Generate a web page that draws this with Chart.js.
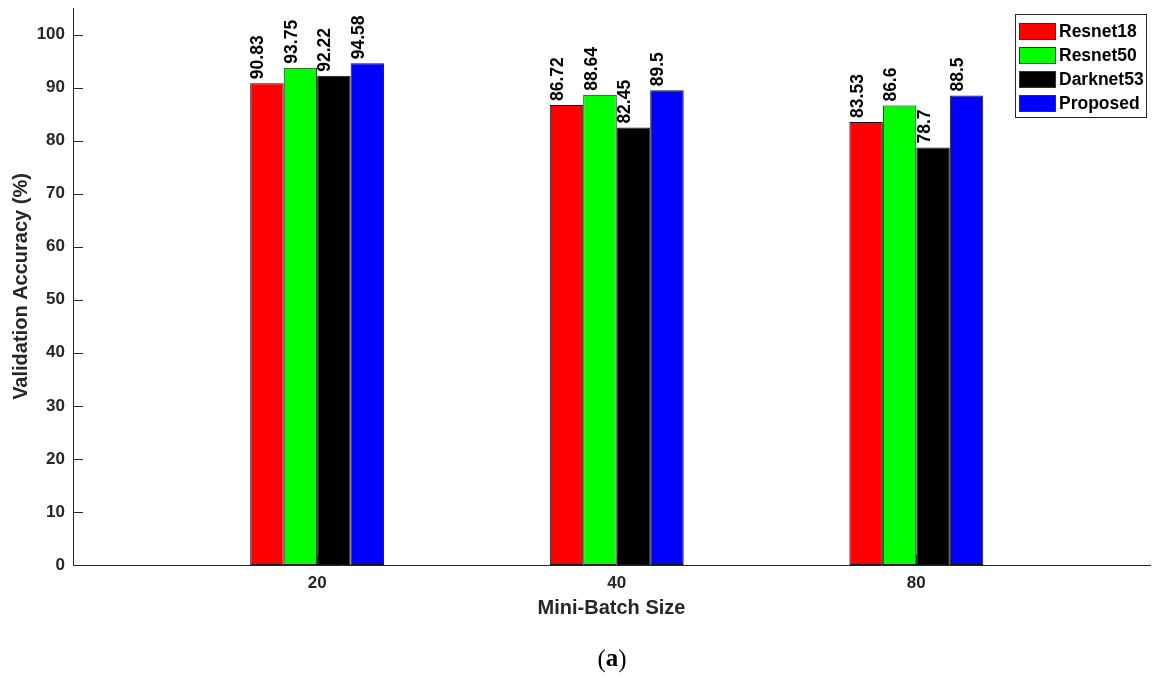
<!DOCTYPE html>
<html>
<head>
<meta charset="utf-8">
<script src="https://cdn.jsdelivr.net/npm/chart.js@4.4.1/dist/chart.umd.min.js"></script>
<style>
  html, body { margin: 0; padding: 0; background: #ffffff; }
  #wrap { width: 1156px; height: 677px; position: relative; }
</style>
</head>
<body>
<div id="wrap"><canvas id="c" width="1156" height="677"></canvas></div>
<script>
// Mini-batch sizes on the x axis
const categories = ['20', '40', '80'];
// Validation accuracy (%) per model, one value per mini-batch size
const resnet18 = [90.83, 86.72, 83.53];
const resnet50 = [93.75, 88.64, 86.6];
const darknet53 = [92.22, 82.45, 78.7];
const proposed = [94.58, 89.5, 88.5];
const seriesNames = ['Resnet18', 'Resnet50', 'Darknet53', 'Proposed'];
const seriesColors = ['#ff0000', '#00ff00', '#000000', '#0000ff'];
const yTicks = [0, 10, 20, 30, 40, 50, 60, 70, 80, 90, 100];

const FONT = "'Liberation Sans', Arial, Helvetica, sans-serif";
const AXIS_COLOR = '#262626';

const seriesValues = [resnet18, resnet50, darknet53, proposed];
const datasets = seriesValues.map((vals, i) => ({
  label: seriesNames[i],
  data: vals.map((v, j) => ({ x: j + 1, y: v })),
  backgroundColor: seriesColors[i],
  borderColor: '#111111',
  borderWidth: 1,
  borderSkipped: false,
  barPercentage: 1.0,
  categoryPercentage: 0.447
}));

// MATLAB-style inward tick marks, drawn on top of the bars
const innerTicks = {
  id: 'innerTicks',
  afterDatasetsDraw(chart) {
    const { ctx, chartArea, scales } = chart;
    ctx.save();
    ctx.strokeStyle = AXIS_COLOR;
    ctx.lineWidth = 1;
    ctx.beginPath();
    scales.y.ticks.forEach(t => {
      const y = Math.round(scales.y.getPixelForValue(t.value)) + 0.5;
      ctx.moveTo(chartArea.left, y);
      ctx.lineTo(chartArea.left + 10, y);
    });
    scales.x.ticks.forEach(t => {
      const x = Math.round(scales.x.getPixelForValue(t.value)) + 0.5;
      ctx.moveTo(x, chartArea.bottom);
      ctx.lineTo(x, chartArea.bottom - 10);
    });
    ctx.stroke();
    ctx.restore();
  }
};

// Vertical value labels above each bar
const barValues = {
  id: 'barValues',
  afterDatasetsDraw(chart) {
    const { ctx } = chart;
    ctx.save();
    ctx.fillStyle = '#000000';
    ctx.font = 'bold 17.5px ' + FONT;
    ctx.textAlign = 'left';
    ctx.textBaseline = 'alphabetic';
    chart.data.datasets.forEach((ds, i) => {
      const meta = chart.getDatasetMeta(i);
      meta.data.forEach((bar, j) => {
        const v = ds.data[j].y;
        ctx.save();
        ctx.translate(bar.x - 3.5, bar.y - 4);
        ctx.rotate(-Math.PI / 2);
        ctx.fillText(String(v), 0, 0);
        ctx.restore();
      });
    });
    ctx.restore();
  }
};

// Boxed legend in the upper right corner
const boxLegend = {
  id: 'boxLegend',
  afterDraw(chart) {
    const { ctx } = chart;
    const left = 1015, top = 14, width = 131, height = 103;
    ctx.save();
    ctx.fillStyle = '#ffffff';
    ctx.fillRect(left, top, width, height);
    ctx.strokeStyle = AXIS_COLOR;
    ctx.lineWidth = 1;
    ctx.strokeRect(left + 0.5, top + 0.5, width, height);
    ctx.font = 'bold 17.5px ' + FONT;
    ctx.textAlign = 'left';
    ctx.textBaseline = 'middle';
    chart.data.datasets.forEach((ds, i) => {
      const cy = top + 17 + i * 24;
      ctx.fillStyle = ds.backgroundColor;
      ctx.fillRect(left + 4, cy - 8, 36, 16);
      ctx.strokeStyle = '#333333';
      ctx.strokeRect(left + 4.5, cy - 7.5, 36, 16);
      ctx.fillStyle = '#000000';
      ctx.fillText(ds.label, left + 44, cy + 1);
    });
    ctx.restore();
  }
};

// Panel caption below the axis title
const caption = {
  id: 'caption',
  afterDraw(chart) {
    const { ctx } = chart;
    ctx.save();
    ctx.fillStyle = '#000000';
    ctx.textBaseline = 'middle';
    ctx.textAlign = 'left';
    const y = 660;
    const regular = "25px 'Liberation Serif', 'DejaVu Serif', serif";
    const bold = "bold 25px 'Liberation Serif', 'DejaVu Serif', serif";
    ctx.font = regular;
    const wOpen = ctx.measureText('(').width;
    const wClose = ctx.measureText(')').width;
    ctx.font = bold;
    const wA = ctx.measureText('a').width;
    let x = 612 - (wOpen + wA + wClose) / 2;
    ctx.font = regular;
    ctx.fillText('(', x, y); x += wOpen;
    ctx.font = bold;
    ctx.fillText('a', x, y); x += wA;
    ctx.font = regular;
    ctx.fillText(')', x, y);
    ctx.restore();
  }
};

new Chart(document.getElementById('c'), {
  type: 'bar',
  data: { datasets },
  options: {
    responsive: false,
    animation: false,
    devicePixelRatio: 1,
    layout: { padding: { top: 8, right: 6, bottom: 0, left: 0 } },
    plugins: {
      legend: { display: false },
      tooltip: { enabled: false }
    },
    scales: {
      x: {
        type: 'linear',
        min: 0.185,
        max: 3.78,
        offset: false,
        afterFit(scale) {
          scale.height = 112;
          scale.paddingLeft = 0;
          scale.paddingRight = 0;
        },
        afterBuildTicks(scale) {
          scale.ticks = categories.map((c, i) => ({ value: i + 1 }));
        },
        grid: { display: false, drawTicks: false },
        border: { display: true, color: AXIS_COLOR, width: 1 },
        ticks: {
          padding: 8,
          color: AXIS_COLOR,
          font: { family: FONT, size: 17, weight: 'bold' },
          callback: (v) => categories[Math.round(v) - 1] ?? ''
        },
        title: {
          display: true,
          text: 'Mini-Batch Size',
          color: AXIS_COLOR,
          font: { family: FONT, size: 20, weight: 'bold' },
          padding: { top: 0, bottom: 57 }
        }
      },
      y: {
        min: 0,
        max: 105,
        afterFit(scale) {
          scale.width = 73;
          scale.paddingTop = 0;
          scale.paddingBottom = 0;
        },
        afterBuildTicks(scale) {
          scale.ticks = yTicks.map(v => ({ value: v }));
        },
        grid: { display: false, drawTicks: false },
        border: { display: true, color: AXIS_COLOR, width: 1 },
        ticks: {
          padding: 8,
          color: AXIS_COLOR,
          font: { family: FONT, size: 17, weight: 'bold' }
        },
        title: {
          display: true,
          text: 'Validation Accuracy (%)',
          color: AXIS_COLOR,
          font: { family: FONT, size: 20, weight: 'bold' },
          padding: { top: 9, bottom: 0 }
        }
      }
    }
  },
  plugins: [innerTicks, barValues, boxLegend, caption]
});
</script>
</body>
</html>
